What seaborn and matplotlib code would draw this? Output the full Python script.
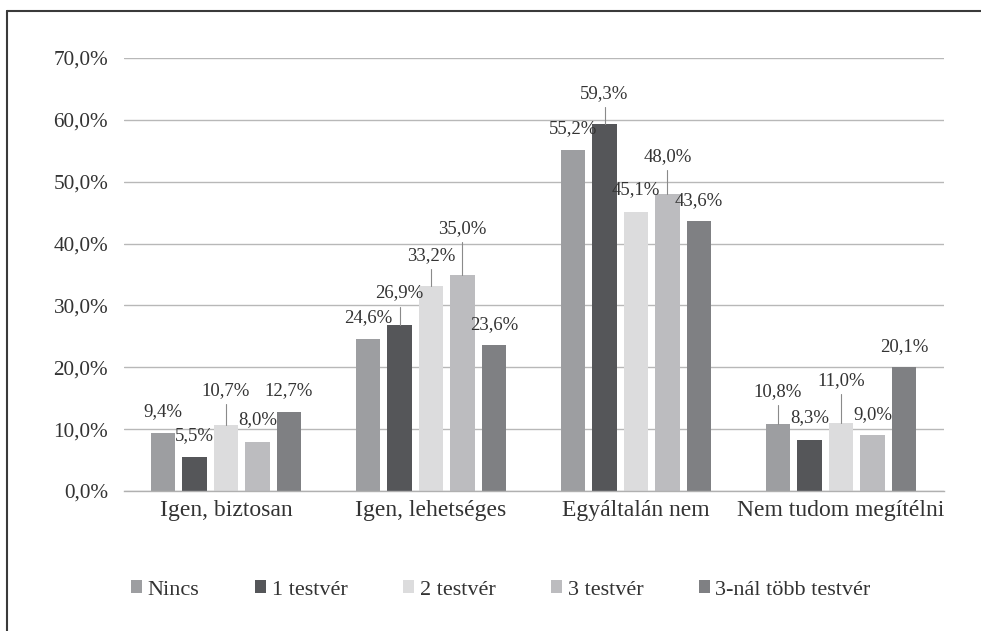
import matplotlib
matplotlib.use('Agg')
import matplotlib.pyplot as plt
from matplotlib.lines import Line2D
import numpy as np
import pandas as pd
import seaborn as sns

# Data
categories = ["Igen, biztosan", "Igen, lehetséges", "Egyáltalán nem", "Nem tudom megítélni"]
groups = ["Nincs", "1 testvér", "2 testvér", "3 testvér", "3-nál több testvér"]
nincs = [9.4, 24.6, 55.2, 10.8]
egy_testver = [5.5, 26.9, 59.3, 8.3]
ket_testver = [10.7, 33.2, 45.1, 11.0]
harom_testver = [8.0, 35.0, 48.0, 9.0]
tobb_testver = [12.7, 23.6, 43.6, 20.1]

colors = ["#9d9ea1", "#555659", "#dcdcdd", "#bcbcbf", "#7f8083"]

# how far above the bar top each data label sits (in % units)
label_offsets = [
    [3.5, 3.4, 3.4, 5.3],
    [3.5, 5.1, 4.9, 3.6],
    [5.6, 4.9, 3.6, 6.9],
    [3.5, 7.5, 6.1, 3.3],
    [3.6, 3.3, 3.4, 3.3],
]

sns.set_theme(style='white')
plt.rcParams['font.family'] = ['Liberation Serif', 'DejaVu Serif']
text_color = '#333333'

df = pd.DataFrame({
    'kategoria': categories * len(groups),
    'testver': np.repeat(groups, len(categories)),
    'ertek': nincs + egy_testver + ket_testver + harom_testver + tobb_testver,
})

fig, ax = plt.subplots(figsize=(9.81, 6.31), dpi=100)
fig.subplots_adjust(left=123.5 / 981, right=943.5 / 981, bottom=1 - 491 / 631, top=1 - 58 / 631)

sns.barplot(data=df, x='kategoria', y='ertek', hue='testver', order=categories,
            hue_order=groups, palette=colors, saturation=1, width=0.768, gap=0.22,
            errorbar=None, edgecolor='none', ax=ax)


def fmt(v):
    return f"{v:.1f}".replace('.', ',') + '%'


# data labels, some with leader lines
for container, offs in zip(ax.containers, label_offsets):
    for bar, off in zip(container, offs):
        x = bar.get_x() + bar.get_width() / 2
        v = bar.get_height()
        ax.text(x, v + off, fmt(v), ha='center', va='center', fontsize=13.5, color=text_color)
        if off > 4.5:
            ax.plot([x, x], [v, v + off - 2.2], color='#8a8a8a', lw=0.8)

ax.set_xlim(-0.5, 3.5)
ax.set_ylim(0, 70)
ax.set_yticks(range(0, 71, 10))
ax.set_yticklabels([fmt(t) for t in range(0, 71, 10)])
ax.set_xlabel('')
ax.set_ylabel('')
ax.yaxis.grid(True, color='#b8b8b8', lw=1.0)
ax.set_axisbelow(True)
for side in ['top', 'right', 'left']:
    ax.spines[side].set_visible(False)
ax.spines['bottom'].set_color('#b0b0b0')
ax.spines['bottom'].set_linewidth(1.0)
ax.tick_params(axis='y', length=0, pad=11, labelsize=15.3, labelcolor=text_color)
ax.tick_params(axis='x', length=0, pad=6.5, labelsize=17, labelcolor=text_color)

# legend below the plot
handles, labels = ax.get_legend_handles_labels()
ax.get_legend().remove()
fig.legend(handles, labels, loc='center left', bbox_to_anchor=(131 / 981, 1 - 590 / 631),
           ncol=5, frameon=False, fontsize=16, handlelength=0.5, handleheight=0.5,
           handletextpad=0.25, columnspacing=2.5, labelcolor=text_color, borderpad=0,
           borderaxespad=0)

# frame of the figure (only left and top edges are visible in the crop)
fig.add_artist(Line2D([7 / 981, 7 / 981], [0, 1 - 11 / 631], transform=fig.transFigure,
                      color='#3a3a3a', lw=1.5))
fig.add_artist(Line2D([7 / 981, 1], [1 - 11 / 631, 1 - 11 / 631], transform=fig.transFigure,
                      color='#3a3a3a', lw=1.5))

fig.savefig('out.png', dpi=100)
